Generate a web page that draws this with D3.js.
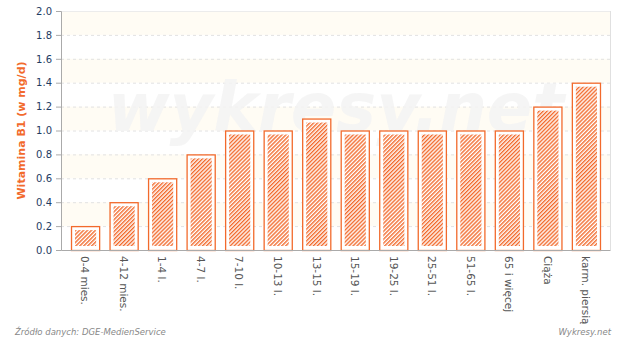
<!DOCTYPE html>
<html>
<head>
<meta charset="utf-8">
<script src="https://cdn.jsdelivr.net/npm/d3@7"></script>
<style>
  body { margin: 0; background: #fff; }
  svg { display: block; font-family: "DejaVu Sans", sans-serif; }
</style>
</head>
<body>
<svg></svg>
<script>
var categories = ['0-4 mies.', '4-12 mies.', '1-4 l.', '4-7 l.', '7-10 l.', '10-13 l.', '13-15 l.',
  '15-19 l.', '19-25 l.', '25-51 l.', '51-65 l.', '65 i więcej', 'Ciąża', 'karm. piersią'];
var values = [0.2, 0.4, 0.6, 0.8, 1.0, 1.0, 1.1, 1.0, 1.0, 1.0, 1.0, 1.0, 1.2, 1.4];
var yTicks = [0, 0.2, 0.4, 0.6, 0.8, 1.0, 1.2, 1.4, 1.6, 1.8, 2.0];

var W = 620, H = 337;
var m = {left: 61, right: 10, top: 11, bottom: 87};
var orange = '#f26a2c';

var svg = d3.select('svg').attr('width', W).attr('height', H);

var x = d3.scaleBand().domain(categories)
  .range([m.left, W - m.right]).paddingInner(0.27).paddingOuter(0.26);
var y = d3.scaleLinear().domain([0, 2]).range([H - m.bottom, m.top]);

// hatch pattern
var defs = svg.append('defs');
defs.append('pattern')
  .attr('id', 'hatch')
  .attr('patternUnits', 'userSpaceOnUse')
  .attr('width', 2.8).attr('height', 3)
  .attr('patternTransform', 'rotate(45)')
  .append('rect')
  .attr('width', 1.4).attr('height', 3)
  .attr('fill', orange);

// alternating bands
var bands = yTicks.slice(0, -1).filter(function(d, i) { return i % 2 === 1; });
svg.append('g').selectAll('rect').data(bands).enter().append('rect')
  .attr('x', m.left).attr('width', W - m.right - m.left)
  .attr('y', function(d) { return y(d + 0.2); })
  .attr('height', function(d) { return y(d) - y(d + 0.2); })
  .attr('fill', '#fffcf4');

// grid
svg.append('g').selectAll('line').data(yTicks.slice(1, -1)).enter().append('line')
  .attr('x1', m.left).attr('x2', W - m.right)
  .attr('y1', function(d) { return y(d) + 0.5; })
  .attr('y2', function(d) { return y(d) + 0.5; })
  .attr('stroke', '#e2e2e2').attr('stroke-dasharray', '3,3');

// frame
svg.append('line').attr('x1', m.left).attr('x2', W - m.right)
  .attr('y1', m.top + 0.5).attr('y2', m.top + 0.5).attr('stroke', '#ececec');
svg.append('line').attr('x1', W - m.right + 0.5).attr('x2', W - m.right + 0.5)
  .attr('y1', m.top).attr('y2', H - m.bottom).attr('stroke', '#e0e0e0');

// watermark
svg.append('text')
  .attr('x', 336).attr('y', 131)
  .attr('text-anchor', 'middle')
  .attr('font-size', 67).attr('font-weight', 'bold').attr('font-style', 'italic')
  .attr('fill', '#f3f3f3').attr('fill-opacity', 0.85)
  .text('wykresy.net');

// bars
var bar = svg.append('g').selectAll('g').data(values).enter().append('g');
bar.append('rect')
  .attr('x', function(d, i) { return x(categories[i]) + 0.5; })
  .attr('y', function(d) { return y(d) + 0.5; })
  .attr('width', x.bandwidth())
  .attr('height', function(d) { return y(0) - y(d); })
  .attr('fill', '#fff').attr('stroke', orange).attr('stroke-width', 1.3);
bar.append('rect')
  .attr('x', function(d, i) { return x(categories[i]) + 4; })
  .attr('y', function(d) { return y(d) + 4; })
  .attr('width', x.bandwidth() - 7)
  .attr('height', function(d) { return y(0) - y(d) - 8; })
  .attr('fill', 'url(#hatch)');

// y axis
var yAxis = svg.append('g')
  .attr('transform', 'translate(' + m.left + ',0)')
  .call(d3.axisLeft(y).tickValues(yTicks).tickSize(5).tickFormat(d3.format('.1f')));
yAxis.select('.domain').attr('stroke', '#aaaaaa');
yAxis.selectAll('.tick line').attr('stroke', '#aaaaaa');
yAxis.selectAll('.tick text').attr('fill', '#1f3c64').attr('font-size', 10)
  .attr('font-family', '"DejaVu Sans", sans-serif').attr('x', -9);

// x axis
var xAxis = svg.append('g')
  .attr('transform', 'translate(0,' + (H - m.bottom) + ')')
  .call(d3.axisBottom(x).tickSize(0));
xAxis.select('.domain').attr('stroke', '#aaaaaa');
xAxis.selectAll('.tick text')
  .attr('fill', '#555').attr('font-size', 10.5)
  .attr('font-family', '"DejaVu Sans", sans-serif')
  .attr('transform', 'rotate(90)')
  .attr('text-anchor', 'start')
  .attr('x', 6).attr('y', 0).attr('dy', '0.35em');

// y title
svg.append('text')
  .attr('transform', 'translate(25,' + ((m.top + H - m.bottom) / 2) + ') rotate(-90)')
  .attr('text-anchor', 'middle')
  .attr('font-size', 11).attr('font-weight', 'bold')
  .attr('fill', orange)
  .text('Witamina B1 (w mg/d)');

// footer
svg.append('text').attr('x', 15).attr('y', 335)
  .attr('font-size', 8.5).attr('font-style', 'italic').attr('fill', '#888')
  .text('Źródło danych: DGE-MedienService');
svg.append('text').attr('x', 611).attr('y', 335).attr('text-anchor', 'end')
  .attr('font-size', 8.5).attr('font-style', 'italic').attr('fill', '#888')
  .text('Wykresy.net');
</script>
</body>
</html>
